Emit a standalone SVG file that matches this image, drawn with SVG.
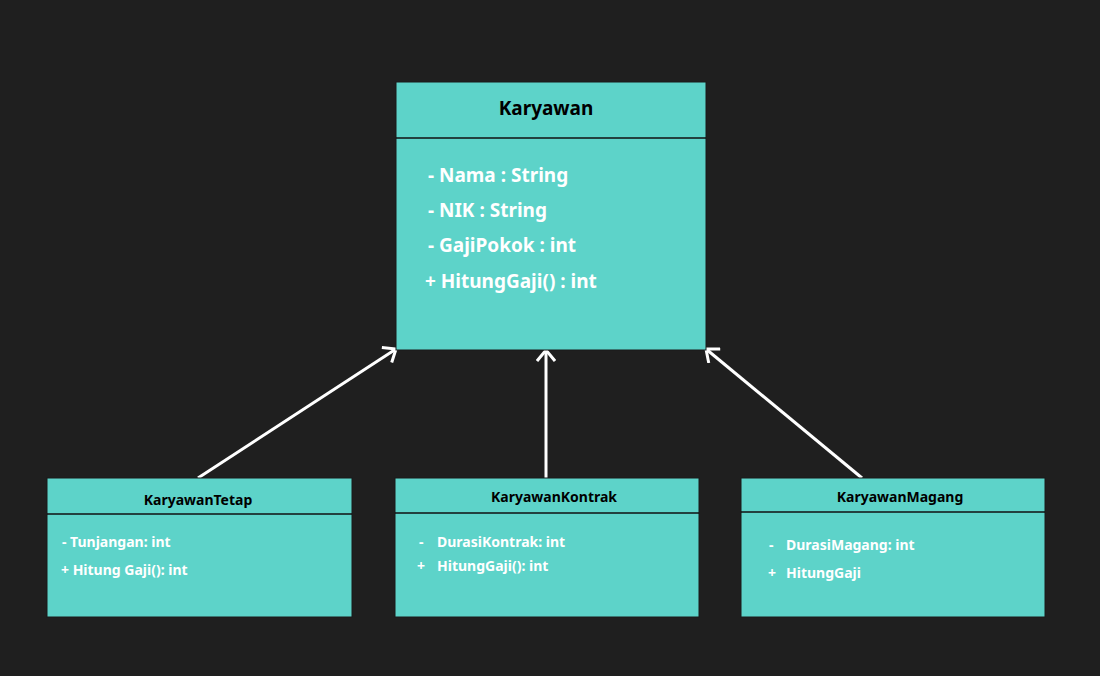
<svg xmlns="http://www.w3.org/2000/svg" width="1100" height="676" viewBox="0 0 1100 676">
<defs>
<style>
.box{fill:#5dd3c9;stroke:#1a1a1a;stroke-width:1}
.div{stroke:#111;stroke-width:1.5}
.title{font-family:"Noto Sans","Open Sans",sans-serif;font-weight:700;fill:#000;text-anchor:middle}
.attr{font-family:"Noto Sans","Open Sans",sans-serif;font-weight:700;fill:#fff}
.conn{stroke:#fff;stroke-width:3;fill:none;marker-end:url(#open)}
</style>
<marker id="open" markerWidth="16" markerHeight="20" refX="13" refY="10" orient="auto" markerUnits="userSpaceOnUse">
<path d="M2,1 L13,10 L2,19" fill="none" stroke="#fff" stroke-width="3"/>
</marker>
</defs>
<rect width="1100" height="676" fill="#1f1f1f"/>
<g id="connectors">
<line class="conn" x1="198" y1="478" x2="396" y2="349"/>
<line class="conn" x1="546" y1="478" x2="546" y2="350"/>
<line class="conn" x1="862" y1="478" x2="706" y2="349"/>
</g>
<g id="Karyawan">
<rect class="box" x="396" y="82" width="310" height="268"/>
<line class="div" x1="396" y1="138" x2="706" y2="138"/>
<text class="title" x="546" y="115" font-size="19">Karyawan</text>
<text class="attr" x="428" y="182" font-size="19">- Nama : String</text>
<text class="attr" x="428" y="217" font-size="19">- NIK : String</text>
<text class="attr" x="428" y="252" font-size="19">- GajiPokok : int</text>
<text class="attr" x="425" y="288" font-size="19">+ HitungGaji() : int</text>
</g>
<g id="KaryawanTetap">
<rect class="box" x="47" y="478" width="305" height="139"/>
<line class="div" x1="47" y1="514" x2="352" y2="514"/>
<text class="title" x="198" y="505" font-size="14">KaryawanTetap</text>
<text class="attr" x="62" y="547" font-size="14">- Tunjangan: int</text>
<text class="attr" x="61" y="575" font-size="14">+ Hitung Gaji(): int</text>
</g>
<g id="KaryawanKontrak">
<rect class="box" x="395" y="478" width="304" height="139"/>
<line class="div" x1="395" y1="513" x2="699" y2="513"/>
<text class="title" x="554" y="502" font-size="14">KaryawanKontrak</text>
<text class="attr" x="419" y="547" font-size="14">-</text>
<text class="attr" x="437" y="547" font-size="14">DurasiKontrak: int</text>
<text class="attr" x="417" y="571" font-size="14">+</text>
<text class="attr" x="437" y="571" font-size="14">HitungGaji(): int</text>
</g>
<g id="KaryawanMagang">
<rect class="box" x="741" y="478" width="304" height="139"/>
<line class="div" x1="741" y1="512" x2="1045" y2="512"/>
<text class="title" x="900" y="502" font-size="14">KaryawanMagang</text>
<text class="attr" x="769" y="550" font-size="14">-</text>
<text class="attr" x="786" y="550" font-size="14">DurasiMagang: int</text>
<text class="attr" x="768" y="578" font-size="14">+</text>
<text class="attr" x="786" y="578" font-size="14">HitungGaji</text>
</g>
</svg>
